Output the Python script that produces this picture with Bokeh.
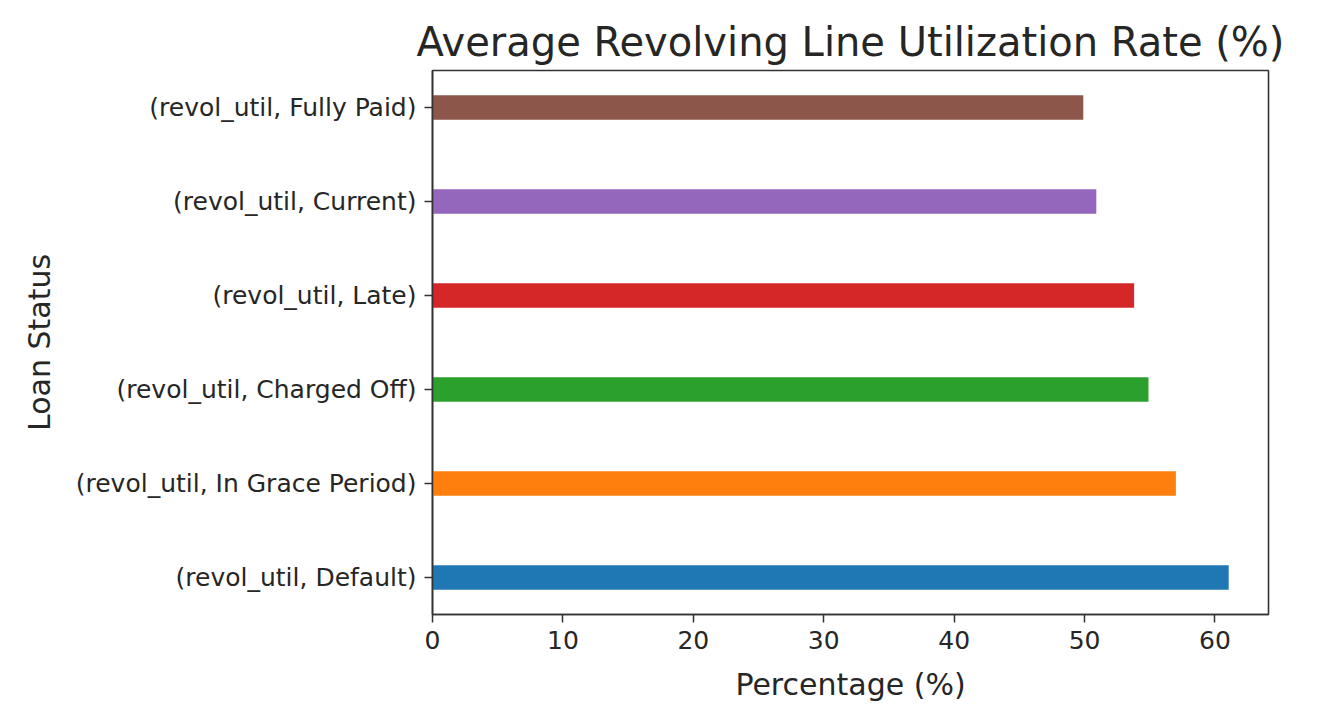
from bokeh.plotting import figure
from bokeh.models import Range1d, FixedTicker
from bokeh.embed import file_html
from bokeh.resources import INLINE

categories = [
    "(revol_util, Default)",
    "(revol_util, In Grace Period)",
    "(revol_util, Charged Off)",
    "(revol_util, Late)",
    "(revol_util, Current)",
    "(revol_util, Fully Paid)",
]
values = [61.05, 57.0, 54.9, 53.8, 50.9, 49.9]
colors = ["#1f77b4", "#ff7f0e", "#2ca02c", "#d62728", "#9467bd", "#8c564b"]
x_ticks = [0, 10, 20, 30, 40, 50, 60]

positions = list(range(len(categories)))
bar_h = 0.26
lo = -bar_h / 2
hi = len(categories) - 1 + bar_h / 2
pad = (hi - lo) * 0.05

p = figure(
    width=1310, height=704,
    output_backend="svg", toolbar_location=None,
    x_range=Range1d(0, max(values) * 1.05),
    y_range=Range1d(lo - pad, hi + pad),
    title="Average Revolving Line Utilization Rate (%)",
    min_border_left=432, min_border_right=42,
    min_border_top=70, min_border_bottom=88,
)

p.hbar(y=positions, right=values, left=0, height=bar_h, fill_color=colors, line_color=None)

font = "DejaVu Sans"
txt = "#262626"
line_c = "#333333"

p.title.text_font = font
p.title.text_font_size = "40px"
p.title.text_font_style = "normal"
p.title.text_color = txt
p.title.align = "center"
p.title.standoff = 12

p.xgrid.visible = False
p.ygrid.visible = False
p.outline_line_color = line_c
p.outline_line_width = 1.6
p.background_fill_color = "white"
p.border_fill_color = "white"

xa = p.xaxis[0]
xa.ticker = FixedTicker(ticks=x_ticks)
xa.axis_label = "Percentage (%)"
ya = p.yaxis[0]
ya.ticker = FixedTicker(ticks=positions)
ya.major_label_overrides = {i: c for i, c in zip(positions, categories)}
ya.axis_label = "Loan Status"

for ax in (xa, ya):
    ax.axis_line_color = line_c
    ax.axis_line_width = 1.6
    ax.major_tick_line_color = line_c
    ax.major_tick_line_width = 1.5
    ax.major_tick_out = 8
    ax.major_tick_in = 0
    ax.minor_tick_line_color = None
    ax.major_label_text_font = font
    ax.major_label_text_font_size = "25px"
    ax.major_label_text_color = txt
    ax.axis_label_text_font = font
    ax.axis_label_text_font_size = "30px"
    ax.axis_label_text_font_style = "normal"
    ax.axis_label_text_color = txt
    ax.major_label_standoff = 8

xa.axis_label_standoff = 15
ya.axis_label_standoff = 16

open("out.html", "w").write(file_html(p, INLINE))
